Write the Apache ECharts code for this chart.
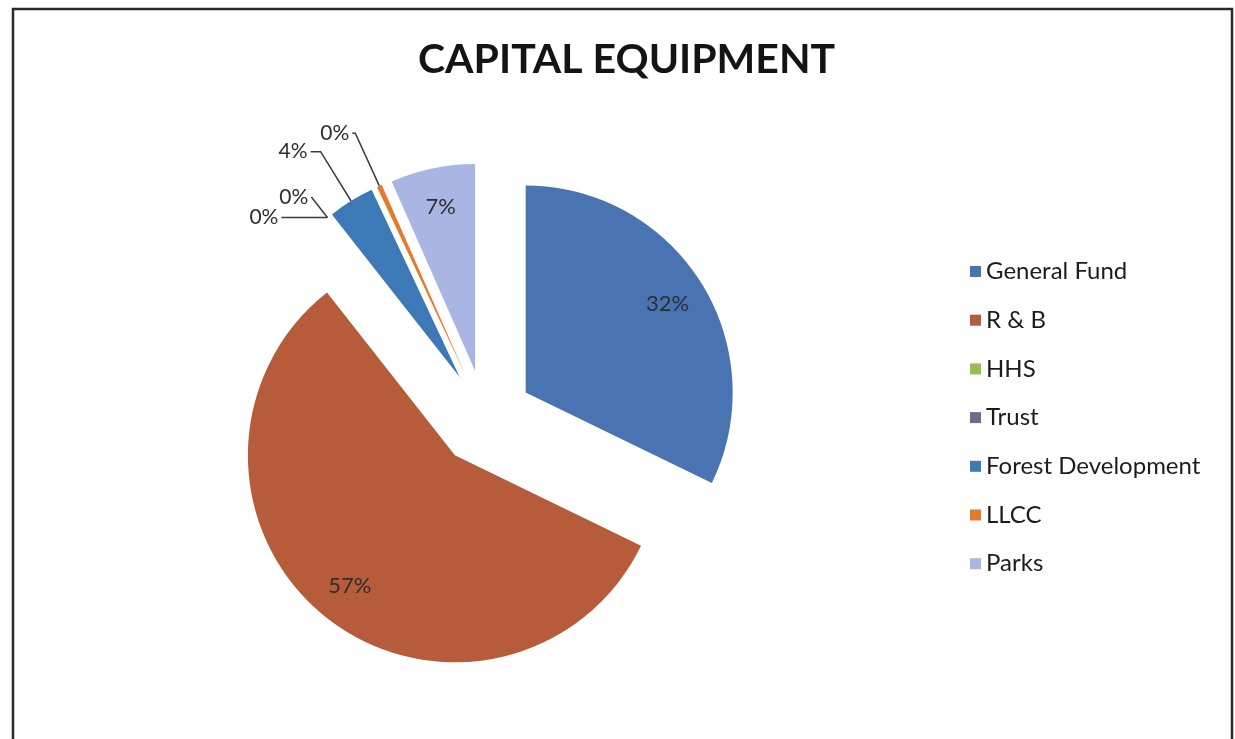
<!DOCTYPE html>
<html>
<head>
<meta charset="utf-8">
<script src="https://cdn.jsdelivr.net/npm/echarts@6/dist/echarts.min.js"></script>
<style>
  html, body { margin: 0; padding: 0; background: #ffffff; }
  #chart { width: 1235px; height: 739px; }
</style>
</head>
<body>
<div id="chart"></div>
<script>
// ---- data ----
var categories = ['General Fund', 'R & B', 'HHS', 'Trust', 'Forest Development', 'LLCC', 'Parks'];
var values = [32.2, 57.2, 0, 0, 3.6, 0.4, 6.6];
var insideLabelled = ['General Fund', 'R & B', 'Parks'];

// ---- styles ----
var palette = ['#4a73b2', '#b65c3a', '#9bbb59', '#6f6a8e', '#3d79b7', '#e27b2b', '#a9b5e2'];
var outsideLine = {
  'HHS': { length: 0, length2: 46 },
  'Trust': { length: 26, length2: 0 },
  'Forest Development': { length: 58, length2: 10 },
  'LLCC': { length: 58, length2: 3 }
};

var FONT = 'Lato, "Open Sans", sans-serif';
var pct = function (p) { return Math.round(p.percent) + '%'; };

var mainData = categories.map(function (name, i) {
  var item = { name: name, value: values[i], selected: true };
  if (insideLabelled.indexOf(name) >= 0) {
    item.label = { show: false };
    item.labelLine = { show: false };
  } else {
    item.label = { show: true, position: 'outside' };
    item.labelLine = Object.assign({ show: true }, outsideLine[name]);
  }
  return item;
});

var labelData = categories.map(function (name, i) {
  return {
    name: name, value: values[i], selected: true,
    label: { show: insideLabelled.indexOf(name) >= 0 }
  };
});

var chart = echarts.init(document.getElementById('chart'), null, { renderer: 'canvas' });
chart.setOption({
  animation: false,
  color: palette,
  title: {
    text: 'CAPITAL EQUIPMENT',
    left: 413, top: 34,
    textStyle: { fontFamily: FONT, fontWeight: 'bold', fontSize: 41, color: '#141414' }
  },
  legend: {
    orient: 'vertical',
    left: 965, top: 254,
    data: categories,
    icon: 'rect',
    itemWidth: 11, itemHeight: 11,
    itemGap: 23.7,
    selectedMode: false,
    textStyle: { fontFamily: FONT, fontSize: 24, color: '#1c1c1c', padding: [0, 0, 0, 0], lineHeight: 25 }
  },
  graphic: [{
    type: 'rect', silent: true, z: -1,
    shape: { x: 13, y: 9, width: 1219, height: 760 },
    style: { fill: 'none', stroke: '#2a2a2a', lineWidth: 2.5 }
  }],
  series: [{
    type: 'pie',
    name: 'main',
    center: [485, 418],
    radius: [0, 207],
    startAngle: 90,
    clockwise: true,
    selectedMode: 'multiple',
    selectedOffset: 48,
    avoidLabelOverlap: false,
    labelLayout: { hideOverlap: false, moveOverlap: false },
    minAngle: 0,
    stillShowZeroSum: true,
    itemStyle: { borderWidth: 0 },
    label: {
      formatter: pct,
      fontFamily: FONT, fontSize: 21, color: '#2e2e2e',
      distanceToLabelLine: 3
    },
    labelLine: { lineStyle: { color: '#3a3a3a', width: 1.5 }, smooth: false },
    emphasis: { disabled: true },
    data: mainData
  }, {
    type: 'pie',
    name: 'labels',
    silent: true,
    center: [485, 418],
    radius: [122, 207],
    startAngle: 90,
    clockwise: true,
    selectedMode: 'multiple',
    selectedOffset: 48,
    avoidLabelOverlap: false,
    itemStyle: { color: 'rgba(0,0,0,0)', borderWidth: 0 },
    label: {
      position: 'inside',
      formatter: pct,
      fontFamily: FONT, fontSize: 22, color: '#2e2e2e'
    },
    labelLine: { show: false },
    emphasis: { disabled: true },
    data: labelData
  }]
});
</script>
</body>
</html>
